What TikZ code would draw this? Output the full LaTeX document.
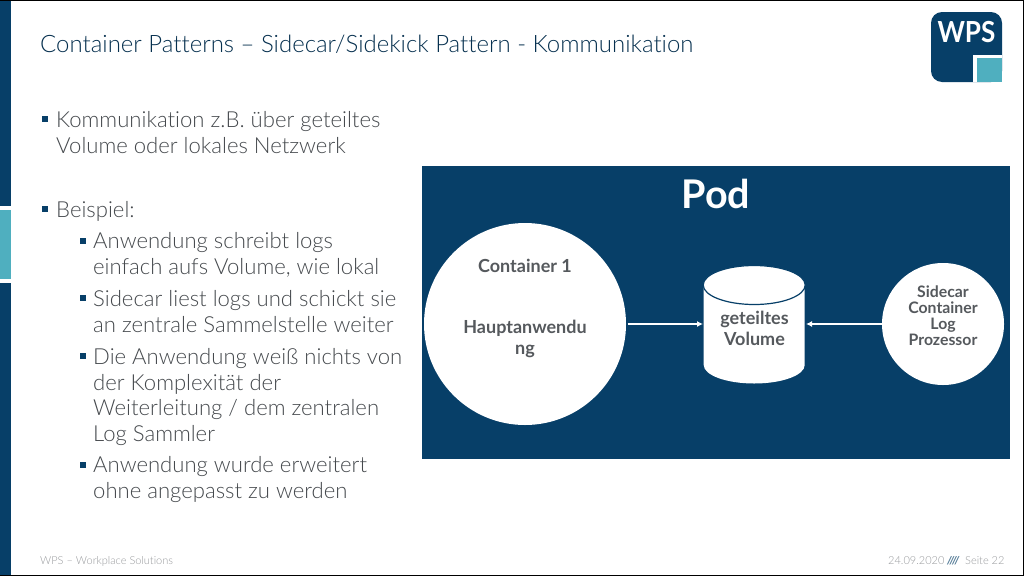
\documentclass[tikz,border=0pt]{standalone}
\usepackage{fontspec}
\setmainfont{Lato}[UprightFont=* Light,BoldFont=* Bold,Ligatures=NoCommon]
\newfontfamily\boldsans{Lato}[UprightFont=* Bold,Ligatures=NoCommon]
\usetikzlibrary{arrows.meta}
\definecolor{wpsblue}{HTML}{073F68}
\definecolor{wpsteal}{HTML}{4FAFBF}
\definecolor{bodygray}{HTML}{45494D}
\definecolor{circlegray}{HTML}{55595D}
\definecolor{footgray}{HTML}{989A9D}
\definecolor{titleblue}{HTML}{06304F}
\tikzset{
  x=1pt,y=-1pt,
  bodytext/.style={anchor=base west,inner sep=0pt,text=bodygray,font=\fontsize{22.1}{25.7}\selectfont,align=left},
  bullet/.style={fill=wpsblue,minimum size=6pt,inner sep=0pt,draw=none},
  circletext/.style={align=center,text=circlegray,inner sep=0pt},
  whitecircle/.style={circle,fill=white,draw=none,inner sep=0pt},
  flow/.style={draw=white,line width=1.5pt,-{Latex[length=6pt,width=6pt]}},
  foot/.style={anchor=base west,inner sep=0pt,text=footgray,font=\fontsize{11}{12}\selectfont}
}
\begin{document}
\begin{tikzpicture}
\useasboundingbox (0,0) rectangle (1024,576);
\fill[white] (0,0) rectangle (1024,576);
% frame and side stripe
\fill[wpsblue] (0,0) rectangle (11,575);
\fill[white] (0,206) rectangle (11,283);
\fill[wpsteal] (0,210) rectangle (11,279);
\fill[black] (0,0) rectangle (1024,1);
\fill[black] (0,574.5) rectangle (1024,576);
\fill[black] (1022.5,0) rectangle (1024,576);
% title
\node[anchor=base west,inner sep=0pt,text=titleblue,font=\fontsize{23.97}{26}\selectfont] (title) at (40,52.5) {Container Patterns – Sidecar/Sidekick Pattern - Kommunikation};
% logo
\fill[wpsblue,rounded corners=11pt] (931,12) rectangle (1002,82);
\fill[white] (973,55) rectangle (1002,82);
\fill[wpsteal] (977,58) rectangle (1002,82);
\node[inner sep=0pt,text=white,font=\boldsans\fontsize{29}{29}\selectfont,xscale=.9] (logo) at (966.5,32.5) {WPS};
% bullets
\node[bullet] (b1) at (45,119) {};
\node[bodytext] (t1) at (56,153.5) {Kommunikation z.B. über geteiltes\\Volume oder lokales Netzwerk};
\node[bullet] (b2) at (45,209) {};
\node[bodytext] (t2) at (56,217.5) {Beispiel:};
\node[bullet] (b3) at (83,241) {};
\node[bodytext] (t3) at (93,274.5) {Anwendung schreibt logs\\einfach aufs Volume, wie lokal};
\node[bullet] (b4) at (83,298) {};
\node[bodytext] (t4) at (93,332.5) {Sidecar liest logs und schickt sie\\an zentrale Sammelstelle weiter};
\node[bullet] (b5) at (83,356) {};
\node[bodytext] (t5) at (93,441.5) {Die Anwendung weiß nichts von\\der Komplexität der\\Weiterleitung / dem zentralen\\Log Sammler};
\node[bullet] (b6) at (83,465) {};
\node[bodytext] (t6) at (93,498.5) {Anwendung wurde erweitert\\ohne angepasst zu werden};
% pod
\fill[wpsblue] (422,166) rectangle (1010,459);
\node[inner sep=0pt,text=white,font=\boldsans\fontsize{39.5}{40}\selectfont] (pod) at (716,194) {Pod};
\node[whitecircle,minimum size=202pt] (c1) at (525,324) {};
\node[circletext,font=\boldsans\fontsize{18}{21}\selectfont] (c1a) at (525,266) {Container 1};
\node[circletext,font=\boldsans\fontsize{18}{21}\selectfont] (c1b) at (525,338.5) {Hauptanwendu\\ng};
\node[whitecircle,minimum size=122pt] (c2) at (943,324) {};
\node[circletext,font=\boldsans\fontsize{15.8}{16.2}\selectfont] (c2t) at (943,315.5) {Sidecar\\Container\\Log\\Prozessor};
% cylinder
\fill[white] (703.7,285) -- (703.7,365) arc[start angle=180,end angle=0,x radius=50.5,y radius=18.5] -- (804.7,285) -- cycle;
\draw[wpsblue,line width=1.2pt,fill=white] (754.2,285) ellipse[x radius=51,y radius=19.5];
\coordinate (vl) at (703,324);
\coordinate (vr) at (806,324);
\node[circletext,font=\boldsans\fontsize{18}{20.5}\selectfont] (vol) at (754.5,328.5) {geteiltes\\Volume};
\path[flow,shorten <=1.5pt] (c1.east) -- (vl);
\path[flow] (c2.west) -- (vr);
% footer
\node[foot] (f1) at (40,564) {WPS – Workplace Solutions};
\node[foot] (f2) at (888,564) {24.09.2020};
\node[foot,text=wpsblue!70,font=\boldsans\itshape\fontsize{11}{12}\selectfont] (f3) at (947,564) {////};
\node[foot] (f4) at (965,564) {Seite 22};
\end{tikzpicture}
\end{document}
